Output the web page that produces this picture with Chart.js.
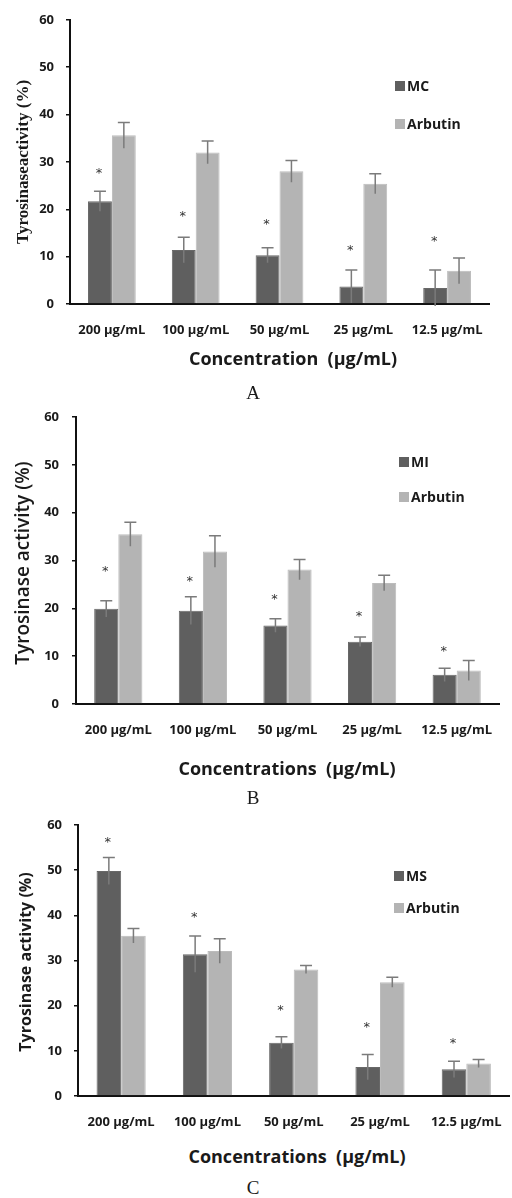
<!DOCTYPE html>
<html>
<head>
<meta charset="utf-8">
<script src="https://cdn.jsdelivr.net/npm/chart.js@4"></script>
<style>
  html, body { margin: 0; padding: 0; background: #fff; }
  body { width: 512px; height: 1198px; position: relative; overflow: hidden; }
  .panel { position: absolute; left: 0; }
  .txt { position: absolute; white-space: nowrap; color: #1a1a1a; transform: translate(-50%, -50%); }
  .ytitle { transform: translate(-50%, -50%) rotate(-90deg); }
  .xtitle { font-family: "Open Sans", sans-serif; font-weight: 700; font-size: 18px; }
  .letter { font-family: "Liberation Serif", serif; font-size: 19px; }
</style>
</head>
<body>

<div class="panel" style="top:0px; width:512px; height:380px;"><canvas id="chartA"></canvas></div>
<div class="panel" style="top:390px; width:512px; height:390px;"><canvas id="chartB"></canvas></div>
<div class="panel" style="top:800px; width:520px; height:340px;"><canvas id="chartC"></canvas></div>

<div class="txt ytitle" style="left:23px; top:162px; font-family:'Liberation Serif', serif; font-weight:700; font-size:17px;">Tyrosinaseactivity (%)</div>
<div class="txt xtitle" style="left:293px; top:358px;">Concentration&nbsp;&nbsp;(µg/mL)</div>
<div class="txt letter" style="left:253px; top:393px;">A</div>

<div class="txt ytitle" style="left:22px; top:563px; font-family:'Open Sans', sans-serif; font-weight:600; font-size:19px;">Tyrosinase activity (%)</div>
<div class="txt xtitle" style="left:287px; top:768px;">Concentrations&nbsp;&nbsp;(µg/mL)</div>
<div class="txt letter" style="left:253px; top:798px;">B</div>

<div class="txt ytitle" style="left:25px; top:962px; font-family:'Open Sans', sans-serif; font-weight:700; font-size:16px;">Tyrosinase activity (%)</div>
<div class="txt xtitle" style="left:297px; top:1156px;">Concentrations&nbsp;&nbsp;(µg/mL)</div>
<div class="txt letter" style="left:253px; top:1188px;">C</div>

<script>
// ---- data ----
const categories = ['200 µg/mL', '100 µg/mL', '50 µg/mL', '25 µg/mL', '12.5 µg/mL'];
const yTicks = [0, 10, 20, 30, 40, 50, 60];

// panel A: MC vs Arbutin
const mcValues = [21.7, 11.4, 10.3, 3.7, 3.4];
const mcErrors = [2.1, 2.7, 1.6, 3.5, 3.8];
const mcStars = [28.2, 19.1, 17.4, 11.8, 13.7];
const arbutinA = [35.6, 32.0, 28.0, 25.4, 7.0];
const arbutinErrA = [2.7, 2.4, 2.3, 2.1, 2.7];

// panel B: MI vs Arbutin
const miValues = [19.9, 19.5, 16.4, 13.0, 6.1];
const miErrors = [1.7, 2.9, 1.4, 1.0, 1.4];
const miStars = [28.2, 26.2, 22.5, 18.9, 11.6];
const arbutinB = [35.5, 31.9, 28.1, 25.3, 7.0];
const arbutinErrB = [2.5, 3.3, 2.1, 1.6, 2.1];

// panel C: MS vs Arbutin
const msValues = [49.8, 31.4, 11.8, 6.4, 5.9];
const msErrors = [3.0, 4.0, 1.3, 2.8, 1.8];
const msStars = [56.8, 40.1, 19.6, 15.9, 12.3];
const arbutinC = [35.5, 32.1, 28.0, 25.2, 7.2];
const arbutinErrC = [1.6, 2.7, 0.9, 1.1, 0.9];

const DARK = '#5f5f5f';
const LIGHT = '#b4b4b4';
const TEXT = '#1a1a1a';
const tickFont = { family: '"Open Sans", sans-serif', weight: 'bold', size: 13 };

// ---- plugins ----

// error bars (cap on top only, like the original)
const errorBars = {
  id: 'errorBars',
  afterDatasetsDraw(chart) {
    const ctx = chart.ctx;
    const y = chart.scales.y;
    ctx.save();
    ctx.strokeStyle = '#7b7b7b';
    ctx.lineWidth = 1.5;
    chart.data.datasets.forEach((ds, i) => {
      const meta = chart.getDatasetMeta(i);
      meta.data.forEach((bar, j) => {
        const v = ds.data[j], e = ds.errors[j];
        const top = y.getPixelForValue(v + e);
        const bot = y.getPixelForValue(v - e);
        ctx.beginPath();
        ctx.moveTo(bar.x, bot);
        ctx.lineTo(bar.x, top);
        ctx.moveTo(bar.x - 6, top);
        ctx.lineTo(bar.x + 6, top);
        ctx.stroke();
      });
    });
    ctx.restore();
  }
};

// significance stars above the sample bars
const stars = {
  id: 'stars',
  afterDatasetsDraw(chart, args, opts) {
    const ctx = chart.ctx;
    const y = chart.scales.y;
    const meta = chart.getDatasetMeta(0);
    ctx.save();
    ctx.fillStyle = '#333';
    ctx.font = '13px "DejaVu Sans", sans-serif';
    ctx.textAlign = 'center';
    ctx.textBaseline = 'middle';
    opts.values.forEach((v, j) => {
      ctx.fillText('*', meta.data[j].x - 1, y.getPixelForValue(v) + 3);
    });
    ctx.restore();
  }
};

// legend drawn inside the plot area
const boxLegend = {
  id: 'boxLegend',
  afterDraw(chart, args, opts) {
    const ctx = chart.ctx;
    ctx.save();
    ctx.font = 'bold 14px "Open Sans", sans-serif';
    ctx.textBaseline = 'middle';
    chart.data.datasets.forEach((ds, i) => {
      const cy = opts.ys[i];
      ctx.fillStyle = ds.backgroundColor;
      ctx.fillRect(opts.x, cy - 5, 10, 10);
      ctx.fillStyle = TEXT;
      ctx.fillText(ds.label, opts.x + 12, cy + 1);
    });
    ctx.restore();
  }
};

function makeChart(id, sample, sampleVals, sampleErr, arbVals, arbErr, starVals, lay) {
  return new Chart(document.getElementById(id), {
    type: 'bar',
    data: {
      labels: categories,
      datasets: [
        { label: sample, data: sampleVals, errors: sampleErr, backgroundColor: DARK, borderColor: '#686868', borderWidth: 1 },
        { label: 'Arbutin', data: arbVals, errors: arbErr, backgroundColor: LIGHT, borderColor: '#bcbcbc', borderWidth: 1 }
      ]
    },
    options: {
      responsive: true,
      maintainAspectRatio: false,
      animation: false,
      layout: { padding: { left: 0, right: lay.right, top: lay.top, bottom: 0 } },
      datasets: { bar: { barPercentage: 1.0, categoryPercentage: 0.57 } },
      scales: {
        x: {
          grid: { display: false, drawTicks: false },
          border: { display: true, color: '#111', width: 2 },
          ticks: { color: TEXT, font: tickFont, padding: lay.xPad, maxRotation: 0, autoSkip: false },
          afterFit(scale) { scale.height = lay.xHeight; }
        },
        y: {
          min: 0,
          max: 60,
          afterBuildTicks(scale) { scale.ticks = yTicks.map(v => ({ value: v })); },
          grid: { drawOnChartArea: false, drawTicks: true, tickLength: 4, color: '#111', lineWidth: 1.5 },
          border: { display: true, color: '#111', width: 2 },
          ticks: { color: TEXT, font: tickFont, padding: lay.yPad },
          afterFit(scale) { scale.width = lay.yWidth; }
        }
      },
      plugins: {
        legend: { display: false },
        tooltip: { enabled: false },
        stars: { values: starVals },
        boxLegend: { x: lay.legendX, ys: lay.legendYs }
      }
    },
    plugins: [errorBars, stars, boxLegend]
  });
}

makeChart('chartA', 'MC', mcValues, mcErrors, arbutinA, arbutinErrA, mcStars,
  { top: 19, right: 23, xHeight: 76, yWidth: 70, xPad: 18, yPad: 12, legendX: 395, legendYs: [86, 124] });

makeChart('chartB', 'MI', miValues, miErrors, arbutinB, arbutinErrB, miStars,
  { top: 27, right: 13, xHeight: 76, yWidth: 76, xPad: 18, yPad: 13, legendX: 399, legendYs: [72, 107] });

makeChart('chartC', 'MS', msValues, msErrors, arbutinC, arbutinErrC, msStars,
  { top: 25, right: 3, xHeight: 44, yWidth: 78, xPad: 18, yPad: 12, legendX: 394, legendYs: [76, 108] });
</script>
</body>
</html>
